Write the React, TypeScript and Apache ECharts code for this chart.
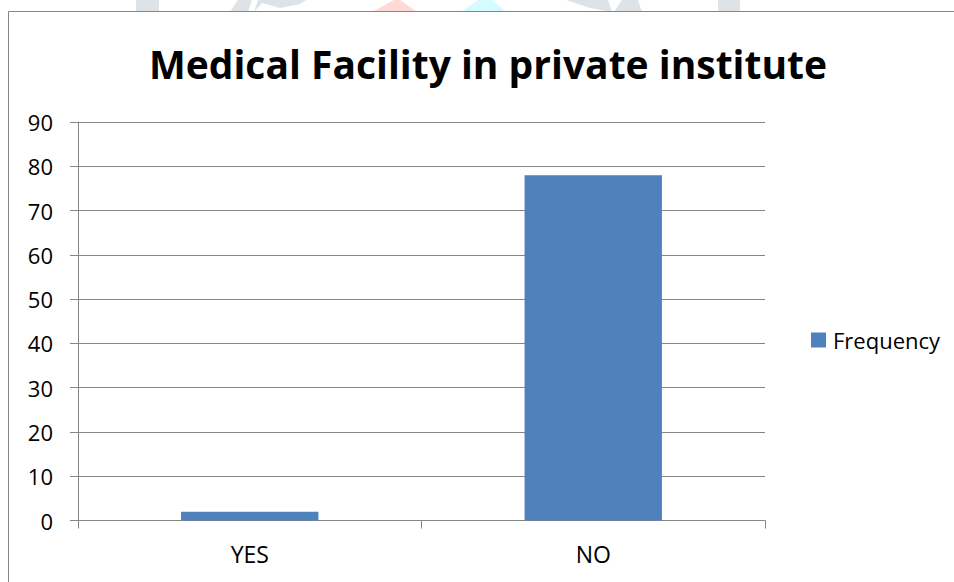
import React, { useEffect, useRef } from "react";
import * as echarts from "echarts";

// Survey answers and their counts
const categories = ["YES", "NO"];
const frequency = [2, 78];
const seriesName = "Frequency";
const chartTitle = "Medical Facility in private institute";

// Value axis range
const yMin = 0;
const yMax = 90;
const yStep = 10;

const AXIS_GREY = "#868686";
const BAR_BLUE = "#4F81BD";
const FONT = '"Open Sans", "Noto Sans", sans-serif';

export default function App() {
  const ref = useRef<HTMLDivElement | null>(null);

  useEffect(() => {
    if (!ref.current) return;
    const chart = echarts.init(ref.current, undefined, { renderer: "svg" });

    chart.setOption({
      animation: false,
      backgroundColor: "#ffffff",
      graphic: [
        // faint backdrop shapes peeking above the frame
        { type: "rect", z: -10, shape: { x: 136, y: 0, width: 23, height: 12 }, style: { fill: "#dde3e6" } },
        { type: "polygon", z: -10, shape: { points: [[230, 12], [238, 0], [252, 0], [248, 12]] }, style: { fill: "#dde3e6" } },
        { type: "polygon", z: -10, shape: { points: [[254, 12], [262, 3], [280, 8], [300, 4], [306, 0], [258, 0]] }, style: { fill: "#dde3e6" } },
        { type: "polygon", z: -10, shape: { points: [[372, 12], [394, 0], [400, 0], [417, 12]] }, style: { fill: "#ffd8d8" } },
        { type: "polygon", z: -10, shape: { points: [[461, 12], [478, 0], [492, 0], [506, 12]] }, style: { fill: "#d4fbfd" } },
        { type: "polygon", z: -10, shape: { points: [[566, 0], [590, 8], [612, 12], [608, 0]] }, style: { fill: "#dde3e6" } },
        { type: "polygon", z: -10, shape: { points: [[614, 12], [622, 0], [638, 0], [642, 12]] }, style: { fill: "#dde3e6" } },
        { type: "rect", z: -10, shape: { x: 718, y: 0, width: 22, height: 12 }, style: { fill: "#dde3e6" } },
        // chart frame
        {
          type: "rect",
          z: -5,
          shape: { x: 8.5, y: 11.5, width: 1000, height: 700 },
          style: { fill: "#ffffff", stroke: AXIS_GREY, lineWidth: 1 },
        },
        {
          type: "text",
          x: 488,
          y: 63,
          style: {
            text: chartTitle,
            font: `bold 39px ${FONT}`,
            fill: "#000000",
            align: "center",
            verticalAlign: "middle",
          },
        },
      ],
      legend: {
        data: [seriesName],
        left: 806,
        top: 324,
        icon: "rect",
        itemWidth: 15,
        itemHeight: 15,
        textStyle: { fontFamily: FONT, fontSize: 22, color: "#000000", padding: [0, 0, 0, 2] },
      },
      grid: { left: 78, right: 189, top: 122, bottom: 61.5, containLabel: false },
      xAxis: {
        type: "category",
        data: categories,
        boundaryGap: true,
        axisLine: { lineStyle: { color: AXIS_GREY, width: 1 } },
        axisTick: { show: true, length: 8, alignWithLabel: false, lineStyle: { color: AXIS_GREY } },
        axisLabel: { margin: 22, fontFamily: FONT, fontSize: 23, color: "#000000" },
        splitLine: { show: false },
      },
      yAxis: {
        type: "value",
        min: yMin,
        max: yMax,
        interval: yStep,
        axisLine: { show: true, lineStyle: { color: AXIS_GREY, width: 1 } },
        axisTick: { show: true, length: 8, lineStyle: { color: AXIS_GREY } },
        axisLabel: { margin: 25, fontFamily: FONT, fontSize: 22, color: "#000000" },
        splitLine: { show: true, lineStyle: { color: AXIS_GREY, width: 1 } },
      },
      series: [
        {
          name: seriesName,
          type: "bar",
          data: frequency,
          barWidth: "40%",
          itemStyle: { color: BAR_BLUE },
        },
      ],
    });

    return () => chart.dispose();
  }, []);

  return (
    <div
      ref={ref}
      style={{ position: "absolute", left: 0, top: 0, width: 954, height: 582 }}
    />
  );
}
